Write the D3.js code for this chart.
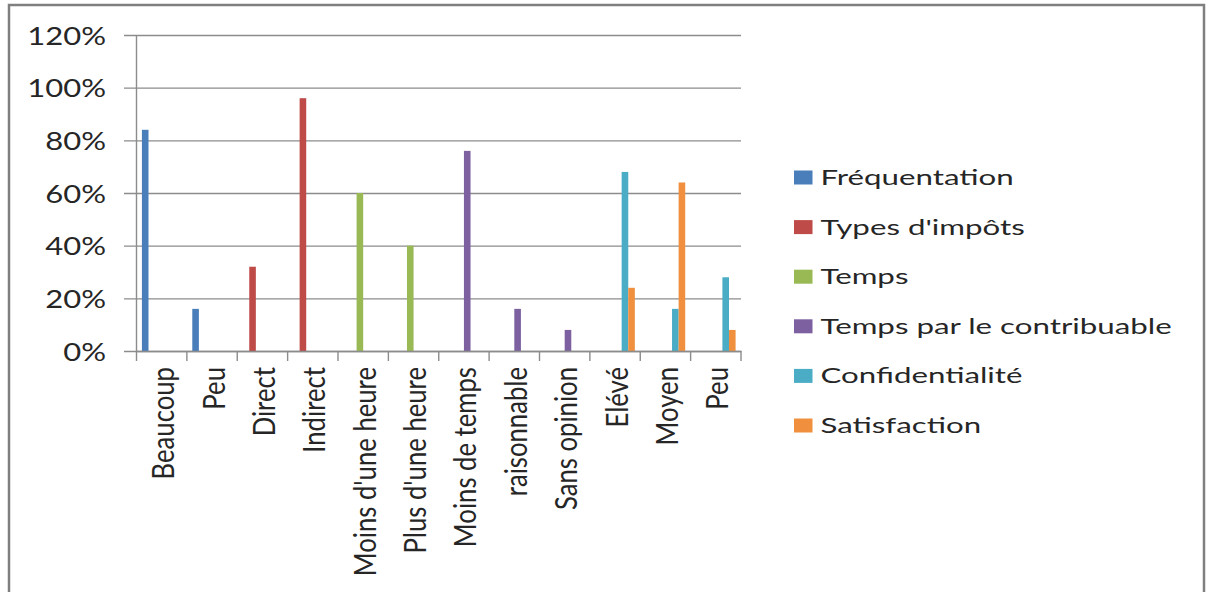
<!DOCTYPE html>
<html>
<head>
<meta charset="utf-8">
<script src="https://cdn.jsdelivr.net/npm/d3@7"></script>
<style>
  html, body { margin: 0; padding: 0; background: #ffffff; }
  svg { display: block; }
  text { font-family: Lato, "Open Sans", sans-serif; fill: #262626; }
</style>
</head>
<body>
<svg id="chart" width="1209" height="592"></svg>
<script>
// Survey answers per question group (percent of respondents)
const categories = ["Beaucoup", "Peu", "Direct", "Indirect", "Moins d'une heure", "Plus d'une heure",
                    "Moins de temps", "raisonnable", "Sans opinion", "Elévé", "Moyen", "Peu "];
const seriesNames = ["Fréquentation", "Types d'impôts", "Temps", "Temps par le contribuable",
                     "Confidentialité", "Satisfaction"];
const frequentation  = [84, 16, null, null, null, null, null, null, null, null, null, null];
const typesImpots    = [null, null, 32, 96, null, null, null, null, null, null, null, null];
const temps          = [null, null, null, null, 60, 40, null, null, null, null, null, null];
const tempsContrib   = [null, null, null, null, null, null, 76, 16, 8, null, null, null];
const confidentialite= [null, null, null, null, null, null, null, null, null, 68, 16, 28];
const satisfaction   = [null, null, null, null, null, null, null, null, null, 24, 64, 8];
const yTicks = [0, 20, 40, 60, 80, 100, 120];

const seriesValues = [frequentation, typesImpots, temps, tempsContrib, confidentialite, satisfaction];
const colors = ["#4a7ebb", "#be4b48", "#98b954", "#7d60a0", "#4aacc5", "#f0903f"];

const svg = d3.select("#chart");
const gridColor = "#8c8c8c";
const sxText = 1.24;    // horizontal stretch of upright labels
const sxLegend = 1.49;

// outer frame
svg.append("rect")
  .attr("x", 9).attr("y", 5).attr("width", 1195).attr("height", 620)
  .attr("fill", "none").attr("stroke", "#7f7f7f").attr("stroke-width", 2.5);

const plotLeft = 136.5, plotRight = 741, plotTop = 35, plotBottom = 351;

const x = d3.scaleBand().domain(categories).range([plotLeft, plotRight]).padding(0);
const xs = d3.scaleBand().domain(seriesNames).range([0, x.bandwidth()])
  .paddingInner(0).paddingOuter(0.82);
const y = d3.scaleLinear().domain([0, 120]).range([plotBottom, plotTop]);

// y axis with gridlines
const yAxis = svg.append("g")
  .attr("transform", `translate(124,0)`)
  .call(d3.axisLeft(y).tickValues(yTicks).tickFormat(d => d + "%")
    .tickSizeInner(-(plotRight - 124)).tickSizeOuter(0));
yAxis.select(".domain").remove();
yAxis.selectAll(".tick line").attr("stroke", gridColor).attr("stroke-width", 1.4);
yAxis.selectAll(".tick text")
  .attr("x", 0).attr("dy", "0.36em")
  .attr("transform", `translate(-18,0) scale(${sxText},1)`)
  .style("font-size", "25px");

// vertical axis line
svg.append("line")
  .attr("x1", plotLeft).attr("x2", plotLeft).attr("y1", plotTop).attr("y2", plotBottom)
  .attr("stroke", gridColor).attr("stroke-width", 1.4);

// bars
seriesValues.forEach((vals, si) => {
  svg.append("g").selectAll("rect")
    .data(vals.map((v, i) => ({ cat: categories[i], v })).filter(d => d.v != null))
    .join("rect")
    .attr("x", d => x(d.cat) + xs(seriesNames[si]))
    .attr("width", xs.bandwidth())
    .attr("y", d => y(d.v))
    .attr("height", d => y(0) - y(d.v))
    .attr("fill", colors[si]);
});

// x axis
const xAxis = svg.append("g")
  .attr("transform", `translate(0,${plotBottom})`)
  .call(d3.axisBottom(x).tickSize(0).tickSizeOuter(0));
xAxis.select(".domain").attr("stroke", gridColor).attr("stroke-width", 1.4);
xAxis.selectAll(".tick text")
  .attr("x", 0).attr("y", 0).attr("dy", "0.4em")
  .attr("text-anchor", "end")
  .attr("transform", "translate(0,16) rotate(-90) scale(1,1.22)")
  .style("font-size", "25.7px");

// category boundary ticks
const bounds = categories.map(c => x(c)).concat([plotRight]);
svg.append("g").selectAll("line").data(bounds).join("line")
  .attr("x1", d => d).attr("x2", d => d)
  .attr("y1", plotBottom).attr("y2", plotBottom + 10)
  .attr("stroke", gridColor).attr("stroke-width", 1.4);

// legend
const legend = svg.append("g");
const rows = legend.selectAll("g").data(seriesNames).join("g")
  .attr("transform", (d, i) => `translate(794,${185 + i * 49.6})`);
rows.append("rect")
  .attr("x", 0).attr("y", -14.5).attr("width", 18.5).attr("height", 14)
  .attr("fill", (d, i) => colors[i]);
rows.append("text")
  .attr("transform", `translate(26.5,0) scale(${sxLegend},1)`)
  .style("font-size", "21px")
  .text(d => d);
</script>
</body>
</html>
